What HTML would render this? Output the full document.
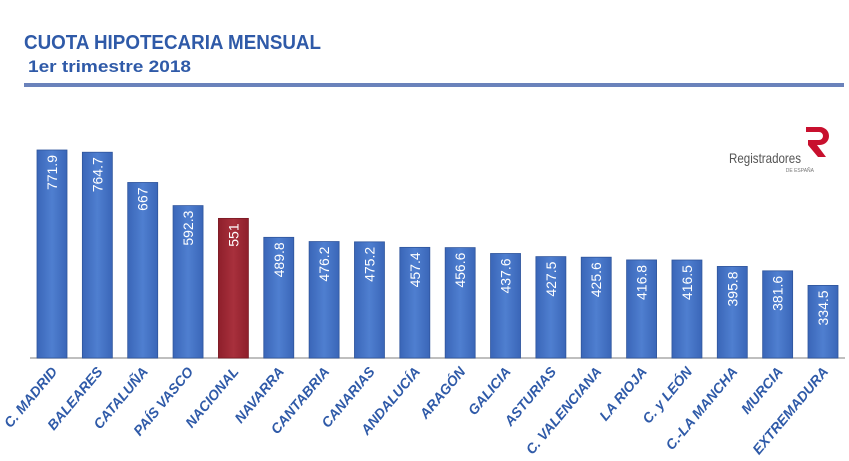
<!DOCTYPE html>
<html><head><meta charset="utf-8"><style>
body{margin:0;background:#fff;width:849px;height:456px;overflow:hidden;font-family:"Liberation Sans",sans-serif}
</style></head><body>
<svg width="849" height="456" viewBox="0 0 849 456">
<defs>
<linearGradient id="gb" x1="0" x2="1" y1="0" y2="0"><stop offset="0" stop-color="#3a66b8"/><stop offset="0.5" stop-color="#4f7fd0"/><stop offset="1" stop-color="#3a66b8"/></linearGradient>
<linearGradient id="gr" x1="0" x2="1" y1="0" y2="0"><stop offset="0" stop-color="#8e1f2b"/><stop offset="0.5" stop-color="#a8303c"/><stop offset="1" stop-color="#8e1f2b"/></linearGradient>
</defs>
<text x="24" y="49" font-size="20" font-weight="bold" fill="#2f5aa8" textLength="297" lengthAdjust="spacingAndGlyphs">CUOTA HIPOTECARIA MENSUAL</text>
<text x="28" y="72" font-size="17" font-weight="bold" fill="#2f5aa8" textLength="163" lengthAdjust="spacingAndGlyphs">1er trimestre 2018</text>
<rect x="24" y="83" width="820" height="4" fill="#6a82bb"/>
<g>
<path d="M806 127 h14 a9 9 0 0 1 0 18 h-3 l9 12 h-8 l-10 -12 v-5 h11 a4 4 0 0 0 0 -8 h-13z" fill="#c8102e"/>
<text x="801" y="163" font-size="14" fill="#555" text-anchor="end" textLength="72" lengthAdjust="spacingAndGlyphs">Registradores</text>
<text x="814" y="172" font-size="5" fill="#777" text-anchor="end">DE ESPAÑA</text>
</g>
<line x1="30" y1="358" x2="845" y2="358" stroke="#aaa" stroke-width="1.5"/>
<g id="bars"></g>
</svg>
<script>
const categories=["C. MADRID","BALEARES","CATALUÑA","PAÍS VASCO","NACIONAL","NAVARRA","CANTABRIA","CANARIAS","ANDALUCÍA","ARAGÓN","GALICIA","ASTURIAS","C. VALENCIANA","LA RIOJA","C. y LEÓN","C.-LA MANCHA","MURCIA","EXTREMADURA"];
const values=[771.9,764.7,667,592.3,551,489.8,476.2,475.2,457.4,456.6,437.6,427.5,425.6,416.8,416.5,395.8,381.6,334.5];
const labels=["771.9","764.7","667","592.3","551","489.8","476.2","475.2","457.4","456.6","437.6","427.5","425.6","416.8","416.5","395.8","381.6","334.5"];
const highlight="NACIONAL";
const yMin=100, yMax=771.9;
const baseY=358, topY=150, x0=37, step=(808-37)/(categories.length-1), bw=30;
const yScale=v=>baseY-(v-yMin)/(yMax-yMin)*(baseY-topY);
const xs=i=>x0+i*step;
const g=document.getElementById('bars');
const NS="http://www.w3.org/2000/svg";
categories.forEach((c,i)=>{
  const r=document.createElementNS(NS,'rect');
  
  
  r.setAttribute('x',xs(i));r.setAttribute('y',yScale(values[i]));
  r.setAttribute('width',bw);r.setAttribute('height',baseY-yScale(values[i]));
  r.setAttribute('fill',c===highlight?'url(#gr)':'url(#gb)');
  r.setAttribute('stroke',c===highlight?'#7a1a24':'#2f559c');r.setAttribute('stroke-width','0.8');
  g.appendChild(r);
  const cx=xs(i)+bw/2;
  const t=document.createElementNS(NS,'text');
  
  
  t.setAttribute('transform',`translate(${cx+5},${yScale(values[i])+5}) rotate(-90)`);
  t.setAttribute('text-anchor','end');t.setAttribute('font-size','14');t.setAttribute('fill','#fff');
  t.textContent=labels[i];g.appendChild(t);
  const l=document.createElementNS(NS,'text');
  
  
  l.setAttribute('transform',`translate(${cx+6},372) rotate(-50)`);
  l.setAttribute('text-anchor','end');l.setAttribute('font-size','14');l.setAttribute('font-style','italic');l.setAttribute('font-weight','bold');l.setAttribute('fill','#2f5aa8');
  l.textContent=c;g.appendChild(l);
});
</script>
</body></html>
